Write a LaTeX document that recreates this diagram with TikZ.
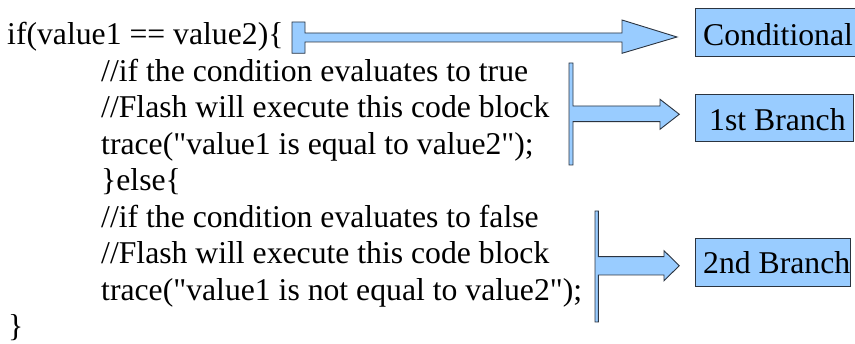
\documentclass[tikz,border=0pt]{standalone}
\usepackage{fontspec}
\setmainfont{Liberation Serif}[Ligatures=TeXOff]
\definecolor{boxfill}{HTML}{99CCFF}
\definecolor{boxline}{HTML}{2B3440}
\tikzset{
  codeline/.style={anchor=base west, inner sep=0pt, font=\fontsize{31.7}{36.5}\selectfont},
  labelbox/.style={draw=boxline, fill=boxfill, line width=1pt, inner sep=0pt},
  blockarrow/.style={draw=boxline, fill=boxfill, line width=0.9pt, line join=miter},
}
\begin{document}
\begin{tikzpicture}[x=1pt,y=-1pt]
  \useasboundingbox (0,0) rectangle (855,344);

  % source code, one line per node
  \node[codeline] (l1) at (7,45)    {if(value1 == value2)\{};
  \node[codeline] (l2) at (101,81.5) {//if the condition evaluates to true};
  \node[codeline] (l3) at (101,118) {//Flash will execute this code block};
  \node[codeline] (l4) at (101,154.5) {trace("value1 is equal to value2");};
  \node[codeline] (l5) at (101,191) {\}else\{};
  \node[codeline] (l6) at (101,227.5) {//if the condition evaluates to false};
  \node[codeline] (l7) at (101,264) {//Flash will execute this code block};
  \node[codeline] (l8) at (101,300.5) {trace("value1 is not equal to value2");};
  \node[codeline] (l9) at (8,337)   {\}};

  % label boxes
  \draw[labelbox] (695,9) rectangle (858,57);
  \node[codeline] (cond) at (703,46) {Conditional};
  \draw[labelbox] (695,95) rectangle (853,142);
  \node[codeline] (br1) at (709,131) {1st Branch};
  \draw[labelbox] (695,239) rectangle (850,287);
  \node[codeline] (br2) at (703,274) {2nd Branch};

  % T-shaped block arrows
  \draw[blockarrow] (292,22) -- (305,22) -- (305,33) -- (622,33) -- (622,20)
    -- (677,37) -- (622,53.3) -- (622,42) -- (305,42) -- (305,53.3) -- (292,53.3) -- cycle;
  \draw[blockarrow] (569,63) -- (573,63) -- (573,106) -- (660,106) -- (660,99.3)
    -- (679.3,114.3) -- (660,129.3) -- (660,121.7) -- (573,121.7) -- (573,165)
    -- (569,165) -- cycle;
  \draw[blockarrow] (595,211) -- (598.3,211) -- (598.3,256.7) -- (664,256.7) -- (664,250.7)
    -- (679.3,265.7) -- (664,280.7) -- (664,275) -- (598.3,275) -- (598.3,322)
    -- (595,322) -- cycle;
\end{tikzpicture}
\end{document}
